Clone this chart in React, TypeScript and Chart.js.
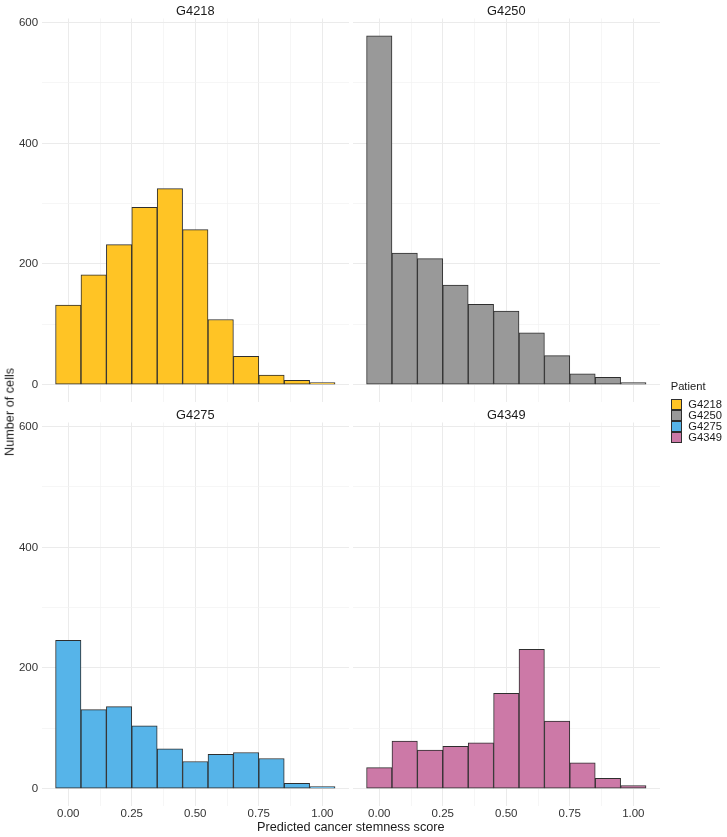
import React, { useEffect, useRef } from "react";
import { Chart, registerables } from "chart.js";

Chart.register(...registerables);

// ---- data ----
const binCenters = [0.0, 0.1, 0.2, 0.3, 0.4, 0.5, 0.6, 0.7, 0.8, 0.9, 1.0];
const patients = ["G4218", "G4250", "G4275", "G4349"];
const countsG4218 = [132, 182, 232, 294, 325, 257, 108, 47, 16, 7, 1];
const countsG4250 = [578, 218, 209, 165, 133, 122, 86, 48, 18, 12, 1];
const countsG4275 = [246, 131, 136, 104, 66, 45, 57, 60, 50, 9, 3];
const countsG4349 = [35, 79, 64, 70, 76, 158, 231, 112, 43, 17, 5];
const xMajorTicks = [0, 0.25, 0.5, 0.75, 1.0];
const xMinorTicks = [0.125, 0.375, 0.625, 0.875];
const yMajorTicks = [0, 200, 400, 600];
const yMinorTicks = [100, 300, 500];
const xTitle = "Predicted cancer stemness score";
const yTitle = "Number of cells";
const legendTitle = "Patient";
const patientColors = ["#FFC425", "#999999", "#56B4E9", "#CC79A7"];

// ---- layout ----
const W = 727;
const H = 837;
const FONT = "'Liberation Sans', Arial, Helvetica, sans-serif";
const X_MIN = -0.105;
const X_MAX = 1.105;
const Y_MIN = -28.9;
const Y_MAX = 606.9;

const panels = [
  { L: 41.6, R: 349.0, T: 18.5, B: 402.1, showY: true, showX: false },
  { L: 352.6, R: 660.0, T: 18.5, B: 402.1, showY: false, showX: false },
  { L: 41.6, R: 349.0, T: 422.5, B: 806.1, showY: true, showX: true },
  { L: 352.6, R: 660.0, T: 422.5, B: 806.1, showY: false, showX: true },
];
const seriesCounts = [countsG4218, countsG4250, countsG4275, countsG4349];

function buildChart(canvas: HTMLCanvasElement, idx: number) {
  const p = panels[idx];
  const yW = p.showY ? 30 : 0;
  const xH = p.showX ? 20 : 0;
  const counts = seriesCounts[idx];
  const xAll = [...xMajorTicks, ...xMinorTicks].sort((a, b) => a - b);
  const yAll = [...yMajorTicks, ...yMinorTicks].sort((a, b) => a - b);
  return new Chart(canvas, {
    type: "bar",
    data: {
      datasets: [
        {
          label: patients[idx],
          data: binCenters.map((x, i) => ({ x, y: counts[i] })),
          backgroundColor: patientColors[idx],
          borderColor: "#2E2E2E",
          borderWidth: 1,
          borderSkipped: false,
          minBarLength: 2,
          barPercentage: 1,
          categoryPercentage: 1,
        } as any,
      ],
    },
    options: {
      responsive: false,
      animation: false,
      events: [],
      layout: {
        padding: {
          left: p.L - yW,
          right: W - p.R,
          top: p.T,
          bottom: H - p.B - xH,
        },
      },
      plugins: {
        legend: { display: false },
        tooltip: { enabled: false },
        title: { display: false },
      },
      scales: {
        x: {
          type: "linear",
          min: X_MIN,
          max: X_MAX,
          offset: false,
          afterBuildTicks: (s: any) => {
            s.ticks = xAll.map((v) => ({ value: v }));
          },
          afterFit: (s: any) => {
            s.height = xH;
          },
          grid: {
            offset: false,
            drawTicks: false,
            color: (ctx: any) =>
              xMajorTicks.includes(ctx.tick?.value) ? "#EBEBEB" : "#F2F2F2",
            lineWidth: (ctx: any) =>
              xMajorTicks.includes(ctx.tick?.value) ? 1 : 0.7,
          },
          border: { display: false },
          ticks: {
            display: p.showX,
            padding: 1,
            color: "#333333",
            font: { family: FONT, size: 11.5 },
            autoSkip: false,
            maxRotation: 0,
            callback: (v: any) =>
              xMajorTicks.includes(Number(v)) ? Number(v).toFixed(2) : "",
          },
        },
        y: {
          type: "linear",
          min: Y_MIN,
          max: Y_MAX,
          afterBuildTicks: (s: any) => {
            s.ticks = yAll.map((v) => ({ value: v }));
          },
          afterFit: (s: any) => {
            s.width = yW;
          },
          grid: {
            drawTicks: false,
            color: (ctx: any) =>
              yMajorTicks.includes(ctx.tick?.value) ? "#EBEBEB" : "#F2F2F2",
            lineWidth: (ctx: any) =>
              yMajorTicks.includes(ctx.tick?.value) ? 1 : 0.7,
          },
          border: { display: false },
          ticks: {
            display: p.showY,
            padding: 3.5,
            color: "#333333",
            font: { family: FONT, size: 11.5 },
            autoSkip: false,
            callback: (v: any) =>
              yMajorTicks.includes(Number(v)) ? String(v) : "",
          },
        },
      },
    } as any,
  });
}

function Panel({ idx }: { idx: number }) {
  const ref = useRef<HTMLCanvasElement | null>(null);
  useEffect(() => {
    if (!ref.current) return;
    const chart = buildChart(ref.current, idx);
    return () => chart.destroy();
  }, [idx]);
  return (
    <canvas
      ref={ref}
      width={W}
      height={H}
      style={{ position: "absolute", left: 0, top: 0, width: W, height: H }}
    />
  );
}

const textBase: React.CSSProperties = {
  position: "absolute",
  fontFamily: FONT,
  lineHeight: 1,
  whiteSpace: "nowrap",
  color: "#1A1A1A",
};

function CenterText({
  x,
  y,
  size,
  text,
  rotate,
}: {
  x: number;
  y: number;
  size: number;
  text: string;
  rotate?: boolean;
}) {
  return (
    <div
      style={{
        ...textBase,
        left: x,
        top: y,
        fontSize: size,
        transform: `translate(-50%, -50%)${rotate ? " rotate(-90deg)" : ""}`,
      }}
    >
      {text}
    </div>
  );
}

export default function App() {
  const stripY = [10.9, 10.9, 415, 415];
  return (
    <div
      style={{
        position: "fixed",
        left: 0,
        top: 0,
        width: W,
        height: H,
        background: "#FFFFFF",
        overflow: "hidden",
      }}
    >
      {panels.map((_, i) => (
        <Panel key={i} idx={i} />
      ))}
      {panels.map((p, i) => (
        <CenterText
          key={"s" + i}
          x={(p.L + p.R) / 2}
          y={stripY[i]}
          size={12.8}
          text={patients[i]}
        />
      ))}
      <CenterText x={350.8} y={827} size={12.7} text={xTitle} />
      <CenterText x={10} y={412} size={12.7} text={yTitle} rotate />
      <div
        style={{
          ...textBase,
          left: 670.7,
          top: 387 - 5.6,
          fontSize: 11.2,
        }}
      >
        {legendTitle}
      </div>
      {patients.map((name, i) => (
        <React.Fragment key={"l" + i}>
          <div
            style={{
              position: "absolute",
              left: 671,
              top: 399 + 11.1 * i,
              width: 10.5,
              height: 11.1,
              boxSizing: "border-box",
              background: patientColors[i],
              border: "1px solid #2E2E2E",
            }}
          />
          <div
            style={{
              ...textBase,
              left: 688.3,
              top: 404.3 + 11.1 * i - 5.6,
              fontSize: 11.2,
            }}
          >
            {name}
          </div>
        </React.Fragment>
      ))}
    </div>
  );
}
